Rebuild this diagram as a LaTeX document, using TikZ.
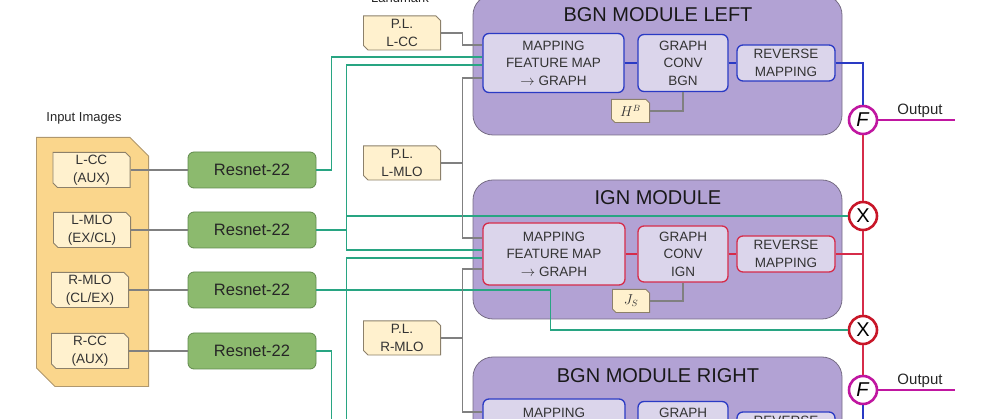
\documentclass[tikz,border=0pt]{standalone}
\usepackage{fontspec}
\setmainfont{Liberation Sans}

\definecolor{modfill}{RGB}{178,162,212}
\definecolor{modline}{RGB}{118,108,132}
\definecolor{mapfill}{RGB}{219,213,235}
\definecolor{bgnblue}{RGB}{42,58,196}
\definecolor{ignred}{RGB}{214,44,74}
\definecolor{cardfill}{RGB}{255,241,206}
\definecolor{cardline}{RGB}{140,128,106}
\definecolor{inputfill}{RGB}{250,214,140}
\definecolor{inputline}{RGB}{176,152,110}
\definecolor{resfill}{RGB}{140,186,110}
\definecolor{resline}{RGB}{96,138,76}
\definecolor{featgreen}{RGB}{40,165,130}
\definecolor{linkgray}{RGB}{128,128,128}
\definecolor{fusemag}{RGB}{192,22,160}
\definecolor{multred}{RGB}{200,22,40}

% snipped corners (top right, bottom left) drawn inside the node
\tikzset{
	snip/.store in=\snipsize, snip=5pt,
	snipfill/.store in=\snipfill, snipfill=cardfill,
	snipline/.store in=\snipline, snipline=cardline,
	snipped/.style={rectangle, inner sep=0pt, path picture={
		\draw[draw=\snipline, fill=\snipfill, line width=0.9pt]
			([shift={(0.45pt,-0.45pt)}]path picture bounding box.north west)
			-- ([shift={(-\snipsize,-0.45pt)}]path picture bounding box.north east)
			-- ([shift={(-0.45pt,-\snipsize)}]path picture bounding box.north east)
			-- ([shift={(-0.45pt,0.45pt)}]path picture bounding box.south east)
			-- ([shift={(\snipsize,0.45pt)}]path picture bounding box.south west)
			-- ([shift={(0.45pt,\snipsize)}]path picture bounding box.south west)
			-- cycle;}}
}

\begin{document}
\begin{tikzpicture}[x=1pt, y=-1pt]

		\tikzstyle{container} = [snipped, snip=19pt, snipfill=inputfill, snipline=inputline, minimum width=113pt, minimum height=250pt]

		\tikzstyle{card} = [snipped, align=center, minimum width=78pt, minimum height=36pt, text=black!80, font=\fontsize{13.5}{17.5}\selectfont]

		\tikzstyle{resnet} = [rectangle, rounded corners=6pt, draw=resline, thick, fill=resfill, minimum width=128pt, minimum height=36pt, text=black!85, font=\fontsize{16.5}{20}\selectfont]

		\tikzstyle{module} = [rectangle, rounded corners=20pt, draw=modline, thick, fill=modfill, minimum width=369pt, inner sep=0pt]

		\tikzstyle{modtitle} = [text=black!90, font=\fontsize{20}{24}\selectfont]

		\tikzstyle{mapbox} = [rectangle, rounded corners=6pt, line width=1.3pt, fill=mapfill, align=center, inner sep=0pt, text=black!80, font=\fontsize{13.5}{17.5}\selectfont]

		\tikzstyle{fuse} = [circle, draw=fusemag, line width=2.6pt, fill=white, minimum size=28pt, inner sep=0pt, font=\fontsize{20}{20}\selectfont]

		\tikzstyle{mult} = [fuse, draw=multred]

		\tikzstyle{links} = [draw=linkgray, line width=1.3pt]

		\tikzstyle{feats} = [draw=featgreen, line width=1.7pt]

		\tikzstyle{caption} = [text=black!85, font=\fontsize{13}{15}\selectfont]

		\useasboundingbox (0,0) rectangle (986,419);

		% inputs
		\node[caption] at (84, 118) (inputlabel) {Input Images};
		\node[container] at (92.5, 262) (inputs) {};

		\node[card] at (91.5, 170) (lcc) {L-CC\\(AUX)};
		\node[card] at (92, 230) (lmlo) {L-MLO\\(EX/CL)};
		\node[card] at (90, 290) (rmlo) {R-MLO\\(CL/EX)};
		\node[card] at (90, 351) (rcc) {R-CC\\(AUX)};

		\node[resnet] at (252, 170) (res1) {Resnet-22};
		\node[resnet] at (252, 230) (res2) {Resnet-22};
		\node[resnet] at (252, 290) (res3) {Resnet-22};
		\node[resnet] at (252, 351) (res4) {Resnet-22};

		% landmarks
		\node[caption, anchor=base] at (400, 3) (landmark) {Landmark};
		\node[card, minimum height=35pt] at (402, 33) (pllcc) {P.L.\\L-CC};
		\node[card, minimum height=35pt] at (402, 163) (plmlo) {P.L.\\L-MLO};
		\node[card, minimum height=35pt] at (402, 338) (plrmlo) {P.L.\\R-MLO};

		% modules
		\node[module, minimum height=140pt] at (657.5, 65) (bgnl) {};
		\node[module, minimum height=139pt] at (657.5, 249.5) (ign) {};
		\node[module, minimum height=163pt] at (657.5, 438.5) (bgnr) {};

		\node[modtitle] at (658, 15) (bgnltitle) {BGN MODULE LEFT};
		\node[modtitle] at (658, 198) (igntitle) {IGN MODULE};
		\node[modtitle] at (658, 376) (bgnrtitle) {BGN MODULE RIGHT};

		\node[mapbox, draw=bgnblue, minimum width=141pt, minimum height=59pt] at (553.5, 63) (mapl) {MAPPING\\FEATURE MAP\\$\rightarrow$ GRAPH};
		\node[mapbox, draw=bgnblue, minimum width=90pt, minimum height=57pt] at (683, 63) (convl) {GRAPH\\CONV\\BGN};
		\node[mapbox, draw=bgnblue, minimum width=98pt, minimum height=36pt] at (786, 63) (revl) {REVERSE\\MAPPING};
		\node[card, snip=4pt, minimum width=39pt, minimum height=24pt] at (630.5, 111) (hb) {$H^{B}$};

		\node[mapbox, draw=ignred, minimum width=142pt, minimum height=62pt] at (554, 254) (mapi) {MAPPING\\FEATURE MAP\\$\rightarrow$ GRAPH};
		\node[mapbox, draw=ignred, minimum width=90pt, minimum height=56pt] at (683, 254) (convi) {GRAPH\\CONV\\IGN};
		\node[mapbox, draw=ignred, minimum width=98pt, minimum height=36pt] at (786, 254) (revi) {REVERSE\\MAPPING};
		\node[card, snip=4pt, minimum width=38pt, minimum height=24pt] at (631, 301) (js) {$J_S$};

		\node[mapbox, draw=bgnblue, minimum width=142pt, minimum height=62pt] at (554, 430) (mapr) {MAPPING\\FEATURE MAP\\$\rightarrow$ GRAPH};
		\node[mapbox, draw=bgnblue, minimum width=90pt, minimum height=57pt] at (683, 430) (convr) {GRAPH\\CONV\\BGN};
		\node[mapbox, draw=bgnblue, minimum width=98pt, minimum height=36pt] at (786, 430) (revr) {REVERSE\\MAPPING};

		% fusion
		\node[fuse] at (863, 120) (f1) {\textit{F}};
		\node[mult] at (863, 216) (x1) {X};
		\node[mult] at (863, 330) (x2) {X};
		\node[fuse] at (863, 390) (f2) {\textit{F}};

		\node[caption, font=\fontsize{15}{18}\selectfont] at (920, 111) (out1) {Output};
		\node[caption, font=\fontsize{15}{18}\selectfont] at (920, 381) (out2) {Output};
		\coordinate (out1end) at (955, 120);
		\coordinate (out2end) at (955, 390);

		\draw[links] (lcc) -- (res1);
		\draw[links] (lmlo) -- (res2);
		\draw[links] (rmlo) -- (res3);
		\draw[links] (rcc) -- (res4);

		\draw[feats] (res1.east) -- ++(15,0) |- ([yshift=6pt]mapl.west);
		\draw[feats] (res2.east) -- ++(30,0) coordinate (j2);
		\draw[feats] (j2) |- ([yshift=-2pt]mapl.west);
		\draw[feats] (j2) |- ([yshift=4pt]mapi.west);
		\draw[feats] (j2 |- x1) -- (x1);
		\draw[feats] (res3.east) -- ++(30,0) coordinate (j3);
		\draw[feats] (j3) -- ++(204,0) |- (x2);
		\draw[feats] (j3) |- ([yshift=-4pt]mapi.west);
		\draw[feats] (j3) |- ([yshift=6pt]mapr.west);
		\draw[feats] (res4.east) -- ++(15,0) |- ([yshift=-2pt]mapr.west);

		\draw[links] (pllcc.east) -- ++(21,0) |- ([yshift=18pt]mapl.west);
		\draw[links] (plmlo.east) -- ++(21,0) coordinate (jp2);
		\draw[links] (jp2) |- ([yshift=-15pt]mapl.west);
		\draw[links] (jp2) |- ([yshift=16pt]mapi.west);
		\draw[links] (plrmlo.east) -- ++(21,0) coordinate (jp3);
		\draw[links] (jp3) |- ([yshift=-15pt]mapi.west);
		\draw[links] (jp3) |- ([yshift=18pt]mapr.west);

		\draw[links] (hb) -| (convl);
		\draw[links] (js) -| (convi);

		\draw[bgnblue, line width=1.3pt] (mapl) -- (convl);
		\draw[bgnblue, line width=1.3pt] (convl) -- (revl);
		\draw[ignred, line width=1.3pt] (mapi) -- (convi);
		\draw[ignred, line width=1.3pt] (convi) -- (revi);
		\draw[bgnblue, line width=1.3pt] (mapr) -- (convr);
		\draw[bgnblue, line width=1.3pt] (convr) -- (revr);

		\draw[bgnblue, line width=1.3pt] (revl) -| (f1);
		\draw[ignred, line width=1.3pt] (f1) -- (x1);
		\draw[ignred, line width=1.3pt] (x1) -- (x2);
		\draw[ignred, line width=1.3pt] (x2) -- (f2);
		\draw[ignred, line width=1.3pt] (revi) -- (revi -| x1);
		\draw[bgnblue, line width=1.3pt] (f2) |- (revr);

		\draw[fusemag, line width=1.3pt] (f1) -- (out1end);
		\draw[fusemag, line width=1.3pt] (f2) -- (out2end);
	\end{tikzpicture}
\end{document}
